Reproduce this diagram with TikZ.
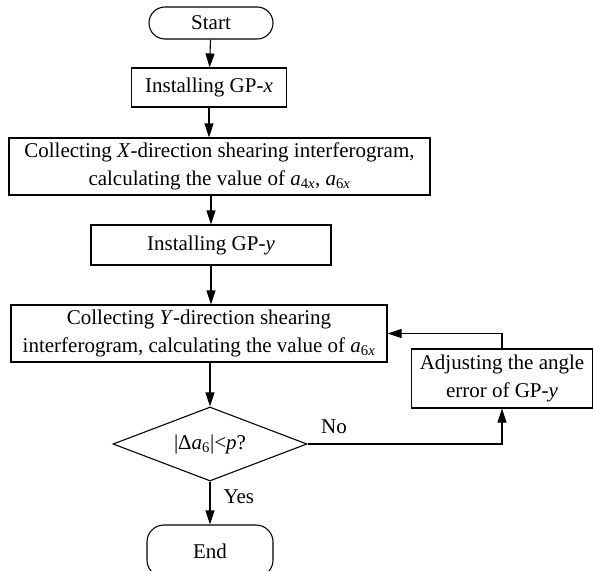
\documentclass[tikz,border=0pt]{standalone}
\usepackage{fontspec}
\setmainfont{Liberation Serif}
\usetikzlibrary{shapes.geometric,arrows.meta}

\tikzset{
  flow/.style={draw, line width=1.1pt, -{Triangle[length=14pt,width=9pt]}},
  procbox/.style={draw, line width=1.1pt, rectangle, align=center, inner sep=0pt},
  termbox/.style={draw, line width=1.1pt, rectangle, rounded corners=16pt, inner sep=0pt},
  decbox/.style={draw, line width=1.1pt, diamond, aspect=2.62, inner sep=0pt},
  lbl/.style={inner sep=0pt}
}
\def\vx{\textit{x}}
\def\vy{\textit{y}}

\begin{document}
\begin{tikzpicture}[x=1pt, y=-1pt, font=\fontsize{21}{28}\selectfont]
  \useasboundingbox (0,0) rectangle (593,570);

  \node[termbox, minimum width=124, minimum height=32] (start) at (211,23) {Start};
  \node[procbox, minimum width=155, minimum height=39] (gpx) at (209,87.5) {Installing GP-\vx};
  \node[procbox, minimum width=421, minimum height=57] (xbox) at (219.5,166.5)
    {Collecting \textit{X}-direction shearing interferogram,\\
     calculating the value of \textit{a}\textsubscript{4\vx}, \textit{a}\textsubscript{6\vx}};
  \node[procbox, minimum width=240, minimum height=40] (gpy) at (211,245) {Installing GP-\vy};
  \node[procbox, minimum width=376, minimum height=57] (ybox) at (199,333.5)
    {Collecting \textit{Y}-direction shearing\\
     interferogram, calculating the value of \textit{a}\textsubscript{6\vx}};
  \node[procbox, minimum width=181, minimum height=59] (adj) at (502,378.5)
    {Adjusting the angle\\ error of GP-\vy};
  \node[decbox, minimum width=194, minimum height=74] (dec) at (210,444)
    {|Δ\textit{a}\textsubscript{6}|<\textit{p}?};
  \node[termbox, rounded corners=17pt, minimum width=126, minimum height=52] (end) at (210,551) {End};

  \draw[flow] (start) -- (gpx);
  \draw[flow] (gpx.south) -- (gpx.south |- xbox.north);
  \draw[flow] (gpy.north |- xbox.south) -- (gpy.north);
  \draw[flow] (gpy.south) -- (gpy.south |- ybox.north);
  \draw[flow] (dec.north |- ybox.south) -- (dec.north);
  \draw[flow] (dec.south) -- node[lbl, pos=0.36, anchor=west, xshift=13pt] {Yes} (end.north);
  \draw[flow] (dec.east) node[lbl, anchor=south west, xshift=13pt, yshift=10pt] {No} -| (adj.south);
  \draw[flow] (adj.north) |- (ybox.east);
\end{tikzpicture}
\end{document}
